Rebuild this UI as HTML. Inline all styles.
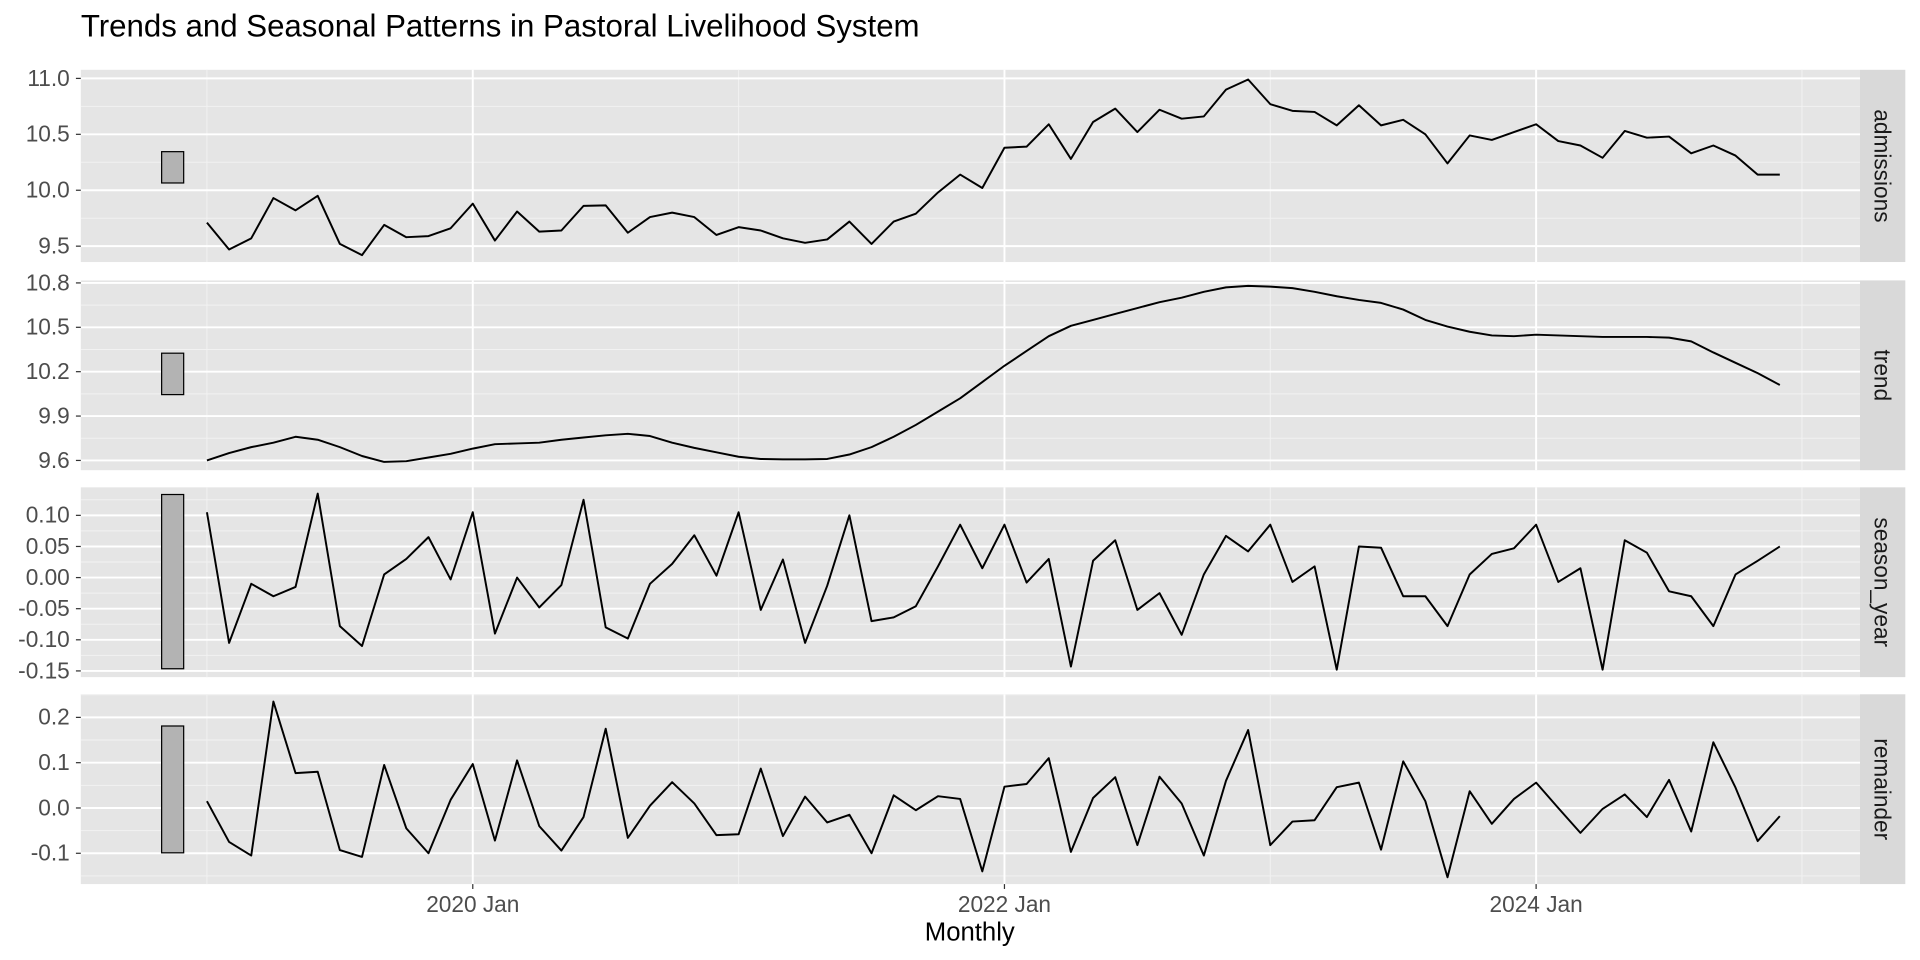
<!DOCTYPE html>
<html><head><meta charset="utf-8"><style>
html,body{margin:0;padding:0;background:#fff;}
svg{display:block;font-family:"Liberation Sans",Arial,sans-serif;}
</style></head><body>
<svg id="chart" width="1920" height="960" viewBox="0 0 1568 784" xmlns="http://www.w3.org/2000/svg">
<text x="66" y="30" font-size="25.5" fill="#000">Trends and Seasonal Patterns in Pastoral Livelihood System</text>
<g id="panels"></g>
<text x="792" y="768" font-size="21" text-anchor="middle" fill="#000">Monthly</text>
</svg>
<script>
const months = 72; // Jan 2019 .. Dec 2024
const xTickLabels = ["2020 Jan","2022 Jan","2024 Jan"];
const xTickIdx = [12,36,60];
const admissions = [9.71,9.47,9.57,9.93,9.82,9.95,9.52,9.42,9.69,9.58,9.59,9.66,9.88,9.55,9.81,9.63,9.64,9.86,9.865,9.62,9.76,9.80,9.76,9.60,9.67,9.64,9.57,9.53,9.56,9.72,9.52,9.72,9.79,9.98,10.14,10.02,10.38,10.39,10.59,10.28,10.61,10.73,10.52,10.72,10.64,10.66,10.90,10.99,10.77,10.71,10.70,10.58,10.76,10.58,10.63,10.50,10.24,10.49,10.45,10.52,10.59,10.44,10.40,10.29,10.53,10.47,10.48,10.33,10.40,10.31,10.14,10.14];
const trend = [9.60,9.65,9.69,9.72,9.76,9.74,9.69,9.63,9.59,9.595,9.62,9.645,9.68,9.71,9.715,9.72,9.74,9.755,9.77,9.78,9.765,9.72,9.685,9.655,9.625,9.61,9.607,9.607,9.61,9.64,9.69,9.76,9.84,9.93,10.02,10.13,10.24,10.34,10.44,10.51,10.55,10.59,10.63,10.67,10.70,10.74,10.77,10.78,10.775,10.765,10.74,10.71,10.685,10.665,10.62,10.55,10.505,10.47,10.445,10.44,10.45,10.445,10.44,10.435,10.435,10.435,10.43,10.405,10.33,10.26,10.19,10.11];
const seasonYear = [0.105,-0.105,-0.01,-0.03,-0.015,0.135,-0.078,-0.11,0.005,0.03,0.065,-0.003,0.105,-0.09,0.0,-0.048,-0.012,0.125,-0.08,-0.098,-0.01,0.022,0.068,0.003,0.105,-0.052,0.029,-0.105,-0.013,0.1,-0.07,-0.064,-0.046,0.018,0.085,0.015,0.085,-0.008,0.03,-0.143,0.027,0.06,-0.052,-0.025,-0.092,0.005,0.067,0.042,0.085,-0.007,0.018,-0.148,0.05,0.048,-0.03,-0.03,-0.078,0.005,0.038,0.047,0.085,-0.007,0.015,-0.148,0.06,0.04,-0.022,-0.03,-0.078,0.005,0.027,0.05];
const remainder = [0.015,-0.075,-0.105,0.235,0.077,0.08,-0.093,-0.108,0.095,-0.045,-0.1,0.018,0.097,-0.072,0.105,-0.04,-0.094,-0.02,0.175,-0.066,0.005,0.057,0.01,-0.06,-0.058,0.087,-0.062,0.025,-0.032,-0.015,-0.1,0.028,-0.005,0.026,0.02,-0.14,0.047,0.053,0.11,-0.097,0.022,0.068,-0.082,0.069,0.01,-0.105,0.06,0.172,-0.082,-0.03,-0.027,0.046,0.056,-0.092,0.103,0.015,-0.153,0.037,-0.035,0.02,0.056,0.0,-0.055,-0.002,0.03,-0.02,0.062,-0.052,0.145,0.045,-0.073,-0.018];
const panelNames = ["admissions","trend","season_year","remainder"];
const yTicks0 = [9.5,10.0,10.5,11.0];
const yTicks1 = [9.6,9.9,10.2,10.5,10.8];
const yTicks2 = [-0.15,-0.10,-0.05,0.00,0.05,0.10];
const yTicks3 = [-0.1,0.0,0.1,0.2];
const yTickLabels0 = ["9.5","10.0","10.5","11.0"];
const yTickLabels1 = ["9.6","9.9","10.2","10.5","10.8"];
const yTickLabels2 = ["-0.15","-0.10","-0.05","0.00","0.05","0.10"];
const yTickLabels3 = ["-0.1","0.0","0.1","0.2"];
const scaleBarRange = 0.28;

const NS="http://www.w3.org/2000/svg";
const root=document.getElementById('panels');
const PL=66, PR=1519;
const xOf=i=>169+i*(1254.5-169)/60;
function mk(tag,attrs,parent){const e=document.createElementNS(NS,tag);for(const k in attrs)e.setAttribute(k,attrs[k]);(parent||root).appendChild(e);return e;}

const panelDefs=[
 {top:57,bot:214,lo:9.358,hi:11.077,data:admissions,ticks:yTicks0,labels:yTickLabels0},
 {top:229,bot:384,lo:9.534,hi:10.817,data:trend,ticks:yTicks1,labels:yTickLabels1},
 {top:398,bot:553,lo:-0.160,hi:0.145,data:seasonYear,ticks:yTicks2,labels:yTickLabels2},
 {top:567,bot:722,lo:-0.168,hi:0.251,data:remainder,ticks:yTicks3,labels:yTickLabels3}
];

panelDefs.forEach((p,pi)=>{
  const g=mk('g',{});
  
  
  const yOf=v=>p.bot-(v-p.lo)/(p.hi-p.lo)*(p.bot-p.top);
  const bg=mk('rect',{x:PL,y:p.top,width:PR-PL,height:p.bot-p.top,fill:'#e5e5e5'},g);
  
  
  for(let k=0;k<p.ticks.length+1;k++){
    const step=p.ticks[1]-p.ticks[0];
    const v=p.ticks[0]-step/2+k*step;
    if(v>p.lo&&v<p.hi) mk('line',{x1:PL,x2:PR,y1:yOf(v),y2:yOf(v),stroke:'#f2f2f2','stroke-width':0.8},g);
  }
  [0,24,48,72].forEach(i=>mk('line',{x1:xOf(i),x2:xOf(i),y1:p.top,y2:p.bot,stroke:'#f2f2f2','stroke-width':0.8},g));
  p.ticks.forEach((v,k)=>{
    const y=yOf(v);
    mk('line',{x1:PL,x2:PR,y1:y,y2:y,stroke:'#fff','stroke-width':1.6},g);
    mk('line',{x1:PL-4,x2:PL,y1:y,y2:y,stroke:'#333','stroke-width':1},g);
    const t=mk('text',{x:PL-9,y:y+6,'font-size':18.5,'text-anchor':'end',fill:'#4d4d4d'},g);
    t.textContent=p.labels[k];
    
    
  });
  xTickIdx.forEach(i=>mk('line',{x1:xOf(i),x2:xOf(i),y1:p.top,y2:p.bot,stroke:'#fff','stroke-width':1.6},g));
  const mean=(Math.max(...p.data)+Math.min(...p.data))/2;
  const sb=mk('rect',{x:132,y:yOf(mean+scaleBarRange/2),width:18,height:yOf(mean-scaleBarRange/2)-yOf(mean+scaleBarRange/2),fill:'#b3b3b3',stroke:'#000','stroke-width':1},g);
  
  
  const d=p.data.map((v,i)=>(i?'L':'M')+xOf(i).toFixed(2)+','+yOf(v).toFixed(2)).join(' ');
  const ln=mk('path',{d:d,fill:'none',stroke:'#000','stroke-width':1.6,'stroke-linejoin':'round'},g);
  
  
  const st=mk('rect',{x:PR,y:p.top,width:37,height:p.bot-p.top,fill:'#d9d9d9'},g);
  
  
  const cy=(p.top+p.bot)/2;
  const sl=mk('text',{x:PR+18.5,y:cy,'font-size':18.5,'text-anchor':'middle','dominant-baseline':'central',fill:'#1a1a1a',transform:`rotate(90 ${PR+18.5} ${cy})`},g);
  sl.textContent=panelNames[pi];
  
  
});
xTickIdx.forEach((i,k)=>{
  mk('line',{x1:xOf(i),x2:xOf(i),y1:722,y2:726,stroke:'#333','stroke-width':1});
  const t=mk('text',{x:xOf(i),y:745,'font-size':18.5,'text-anchor':'middle',fill:'#4d4d4d'});
  t.textContent=xTickLabels[k];
  
  
});
</script>
</body></html>
